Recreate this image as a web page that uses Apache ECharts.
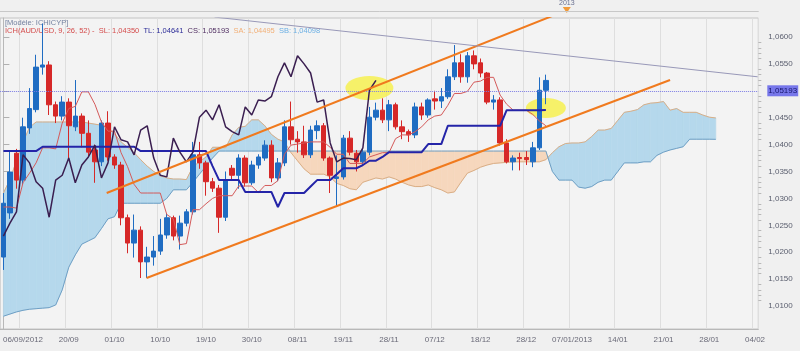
<!DOCTYPE html>
<html>
<head>
<meta charset="utf-8">
<script src="https://cdn.jsdelivr.net/npm/echarts@6/dist/echarts.min.js"></script>
<style>
html, body { margin: 0; padding: 0; background: #f0f0f0; }
#chart { width: 800px; height: 351px; }
</style>
</head>
<body>
<div id="chart"></div>
<script>
// bougies : [ouverture, clôture, bas, haut]
const candles = [
  [1.0191, 1.0291, 1.0167, 1.0310], [1.0273, 1.0349, 1.0262, 1.0387], [1.0384, 1.0334, 1.0318, 1.0392],
  [1.0334, 1.0433, 1.0325, 1.0450], [1.0431, 1.0467, 1.0420, 1.0505], [1.0465, 1.0544, 1.0460, 1.0567],
  [1.0544, 1.0548, 1.0530, 1.0625], [1.0548, 1.0474, 1.0455, 1.0555], [1.0474, 1.0453, 1.0440, 1.0480],
  [1.0453, 1.0479, 1.0445, 1.0490], [1.0479, 1.0435, 1.0375, 1.0486], [1.0433, 1.0453, 1.0425, 1.0520],
  [1.0453, 1.0421, 1.0395, 1.0458], [1.0421, 1.0386, 1.0378, 1.0445], [1.0390, 1.0368, 1.0329, 1.0400],
  [1.0368, 1.0440, 1.0360, 1.0445], [1.0440, 1.0377, 1.0370, 1.0462], [1.0377, 1.0362, 1.0355, 1.0382],
  [1.0362, 1.0264, 1.0250, 1.0368], [1.0264, 1.0217, 1.0198, 1.0270], [1.0217, 1.0241, 1.0190, 1.0270],
  [1.0241, 1.0182, 1.0152, 1.0248], [1.0182, 1.0191, 1.0152, 1.0210], [1.0191, 1.0202, 1.0175, 1.0230],
  [1.0202, 1.0232, 1.0195, 1.0262], [1.0232, 1.0264, 1.0225, 1.0272], [1.0264, 1.0230, 1.0222, 1.0268],
  [1.0230, 1.0254, 1.0205, 1.0268], [1.0254, 1.0275, 1.0248, 1.0280], [1.0275, 1.0381, 1.0270, 1.0405],
  [1.0381, 1.0366, 1.0355, 1.0405], [1.0366, 1.0331, 1.0305, 1.0370], [1.0331, 1.0319, 1.0312, 1.0338],
  [1.0319, 1.0265, 1.0236, 1.0325], [1.0265, 1.0334, 1.0258, 1.0350], [1.0356, 1.0343, 1.0335, 1.0362],
  [1.0343, 1.0375, 1.0318, 1.0382], [1.0375, 1.0329, 1.0322, 1.0380], [1.0329, 1.0362, 1.0325, 1.0370],
  [1.0362, 1.0377, 1.0355, 1.0382], [1.0375, 1.0399, 1.0370, 1.0408], [1.0399, 1.0338, 1.0330, 1.0408],
  [1.0338, 1.0366, 1.0332, 1.0375], [1.0366, 1.0433, 1.0360, 1.0445], [1.0433, 1.0409, 1.0400, 1.0480],
  [1.0410, 1.0405, 1.0385, 1.0425], [1.0405, 1.0381, 1.0375, 1.0435], [1.0381, 1.0427, 1.0375, 1.0435],
  [1.0426, 1.0435, 1.0410, 1.0445], [1.0435, 1.0375, 1.0370, 1.0440], [1.0375, 1.0343, 1.0310, 1.0378],
  [1.0337, 1.0340, 1.0284, 1.0380], [1.0340, 1.0412, 1.0335, 1.0418], [1.0412, 1.0386, 1.0380, 1.0425],
  [1.0384, 1.0368, 1.0350, 1.0390], [1.0368, 1.0386, 1.0362, 1.0392], [1.0386, 1.0451, 1.0380, 1.0470],
  [1.0451, 1.0464, 1.0445, 1.0478], [1.0464, 1.0446, 1.0440, 1.0486], [1.0446, 1.0474, 1.0425, 1.0483],
  [1.0474, 1.0433, 1.0428, 1.0478], [1.0433, 1.0424, 1.0410, 1.0445], [1.0424, 1.0418, 1.0405, 1.0428],
  [1.0418, 1.0470, 1.0412, 1.0478], [1.0470, 1.0455, 1.0446, 1.0478], [1.0455, 1.0483, 1.0450, 1.0486],
  [1.0485, 1.0481, 1.0465, 1.0500], [1.0481, 1.0489, 1.0468, 1.0505], [1.0489, 1.0526, 1.0485, 1.0540],
  [1.0526, 1.0552, 1.0520, 1.0585], [1.0552, 1.0526, 1.0515, 1.0568], [1.0526, 1.0565, 1.0515, 1.0572],
  [1.0565, 1.0550, 1.0540, 1.0575], [1.0552, 1.0533, 1.0525, 1.0560], [1.0533, 1.0479, 1.0475, 1.0535],
  [1.0479, 1.0483, 1.0465, 1.0492], [1.0483, 1.0403, 1.0398, 1.0488], [1.0403, 1.0368, 1.0365, 1.0410],
  [1.0368, 1.0375, 1.0352, 1.0380], [1.0376, 1.0374, 1.0352, 1.0385], [1.0376, 1.0372, 1.0362, 1.0388],
  [1.0368, 1.0394, 1.0358, 1.0405], [1.0394, 1.0501, 1.0390, 1.0525], [1.0501, 1.05193, 1.0475, 1.0530]
];

// SL (rouge) et TL (bleu foncé)
const tenkan = [
  1.0284, 1.0284, 1.0282, 1.0329, 1.0347, 1.0366, 1.0394, 1.0394, 1.0392, 1.0440,
  1.0467, 1.0471, 1.0498, 1.0498, 1.0475, 1.0442, 1.0425, 1.0425, 1.0385, 1.0359,
  1.0326, 1.0310, 1.0310, 1.0310, 1.0310, 1.0270, 1.0262, 1.0214, 1.0216, 1.0279,
  1.0279, 1.0290, 1.0300, 1.0305, 1.0305, 1.0305, 1.0323, 1.0323, 1.0323, 1.0311,
  1.0324, 1.0324, 1.0333, 1.0382, 1.0399, 1.0401, 1.0403, 1.0405, 1.0405, 1.0405,
  1.0395, 1.0382, 1.0382, 1.0365, 1.0365, 1.0365, 1.0377, 1.0381, 1.0385, 1.0385,
  1.0411, 1.0418, 1.0418, 1.0424, 1.0433, 1.0446, 1.0453, 1.0455, 1.0473, 1.0495,
  1.0495, 1.0499, 1.0516, 1.0518, 1.0525, 1.0525, 1.0492, 1.0475, 1.0464, 1.0464,
  1.0464, 1.0456, 1.0444, 1.0435
];
const kijun = [
  1.0388, 1.0388, 1.0388, 1.0388, 1.0388, 1.0388, 1.0396, 1.0396, 1.0396, 1.0396,
  1.0396, 1.0396, 1.0396, 1.0396, 1.0396, 1.0396, 1.0396, 1.0396, 1.0396, 1.0396,
  1.0396, 1.0388, 1.0388, 1.0388, 1.0388, 1.0388, 1.0388, 1.0388, 1.0388, 1.0388,
  1.0388, 1.0388, 1.0360, 1.0334, 1.0334, 1.0334, 1.0334, 1.0312, 1.0312, 1.0312,
  1.0312, 1.0312, 1.0284, 1.0310, 1.0310, 1.0310, 1.0310, 1.0322, 1.0334, 1.0334,
  1.0334, 1.0345, 1.0356, 1.0356, 1.0356, 1.0362, 1.0370, 1.0370, 1.0377, 1.0386,
  1.0386, 1.0386, 1.0386, 1.0386, 1.0386, 1.0401, 1.0401, 1.0401, 1.0435, 1.0435,
  1.0435, 1.0435, 1.0435, 1.0435, 1.0435, 1.0435, 1.0435, 1.0464, 1.0464, 1.0464,
  1.0464, 1.0464, 1.0464, 1.04641
];

// nuage : SA et SB, décalés de 26 séances
const spanA = [
  1.0310, 1.0335, 1.0370, 1.0405, 1.0432, 1.0442, 1.0442, 1.0442, 1.0442, 1.0442,
  1.0442, 1.0442, 1.0442, 1.0440, 1.0438, 1.0436, 1.0430, 1.0420, 1.0405, 1.0395,
  1.0385, 1.0372, 1.0360, 1.0350, 1.0342, 1.0338, 1.0336, 1.0336, 1.0335, 1.0359,
  1.0368, 1.0377, 1.0395, 1.0395, 1.0394, 1.0418, 1.0432, 1.0434, 1.0446, 1.0446,
  1.0435, 1.0419, 1.0410, 1.0405, 1.0385, 1.0370, 1.0355, 1.0345, 1.0345, 1.0345,
  1.0340, 1.0328, 1.0324, 1.0318, 1.0316, 1.0330, 1.0334, 1.0338, 1.0336, 1.0340,
  1.0336, 1.0330, 1.0325, 1.0322, 1.0322, 1.0325, 1.0320, 1.0316, 1.0310, 1.0312,
  1.0330, 1.0347, 1.0352, 1.0358, 1.0362, 1.0365, 1.0366, 1.0367, 1.0368, 1.0368,
  1.0368, 1.0368, 1.0368, 1.0372, 1.0385, 1.0396, 1.0402, 1.0403, 1.0403, 1.0405,
  1.0415, 1.0427, 1.0427, 1.0430, 1.0445, 1.0460, 1.0462, 1.0465, 1.0474, 1.0477,
  1.0478, 1.0480, 1.0464, 1.0467, 1.0460, 1.0460, 1.0460, 1.0455, 1.0451, 1.04495
];
const spanB = [
  1.0081, 1.0085, 1.0089, 1.0092, 1.0094, 1.0095, 1.0096, 1.0097, 1.0102, 1.0130,
  1.0172, 1.0195, 1.0215, 1.0221, 1.0227, 1.0244, 1.0262, 1.0266, 1.0291, 1.0291,
  1.0291, 1.0291, 1.0291, 1.0291, 1.0291, 1.0300, 1.0316, 1.0316, 1.0316, 1.0330,
  1.0345, 1.0360, 1.0375, 1.0388, 1.0388, 1.0388, 1.0388, 1.0388, 1.0388, 1.0388,
  1.0388, 1.0388, 1.0388, 1.0388, 1.0388, 1.0388, 1.0388, 1.0388, 1.0388, 1.0388,
  1.0388, 1.0388, 1.0388, 1.0388, 1.0388, 1.0388, 1.0388, 1.0388, 1.0388, 1.0388,
  1.0388, 1.0388, 1.0388, 1.0388, 1.0388, 1.0388, 1.0388, 1.0388, 1.0388, 1.0388,
  1.0388, 1.0388, 1.0388, 1.0388, 1.0388, 1.0388, 1.0388, 1.0388, 1.0388, 1.0388,
  1.0388, 1.0388, 1.0388, 1.0388, 1.0350, 1.0334, 1.0334, 1.0334, 1.0321, 1.0319,
  1.0322, 1.0330, 1.0334, 1.0334, 1.0350, 1.0366, 1.0366, 1.0366, 1.0368, 1.0368,
  1.0380, 1.0386, 1.0390, 1.0393, 1.0396, 1.0410, 1.0410, 1.0410, 1.0410, 1.04098
];

const dateLabels = ['06/09/2012', '20/09', '01/10', '10/10', '19/10', '30/10', '08/11', '19/11', '28/11',
  '07/12', '18/12', '28/12', '07/01/2013', '14/01', '21/01', '28/01', '04/02'];
const priceTicks = [1.01, 1.015, 1.02, 1.025, 1.03, 1.035, 1.04, 1.045, 1.05, 1.055, 1.06];

// tracés manuels : [séance, prix]
const upperChannel = [[15.8, 1.0310], [85.2, 1.0645]];
const lowerChannel = [[21.9, 1.0152], [102.0, 1.0520]];
const resistance = [[32.3, 1.0637], [115.4, 1.0526]];
const highlights = [[55.5, 1.0505, 24, 12], [83.0, 1.0468, 20, 10]];
const yearMark = 86.2;

const SLOTS = 116;
const FIRST_LABEL = 3;
const LABEL_STEP = 7;
const categories = Array.from({ length: SLOTS }, (_, i) => String(i));
const isLabel = i => i >= FIRST_LABEL && (i - FIRST_LABEL) % LABEL_STEP === 0;
const closes = candles.map(c => c[1]);
const chikou = closes.slice(26);
const lastPrice = closes[closes.length - 1];
const fmt4 = v => v.toFixed(4).replace('.', ',');
const fmt5 = v => v.toFixed(5).replace('.', ',');

const minorTicks = [];
for (let k = 0; k < priceTicks.length - 1; k++) {
  for (let j = 1; j < 5; j++) minorTicks.push(priceTicks[k] + (priceTicks[k + 1] - priceTicks[k]) * j / 5);
}

const BLUE = '#1f6cc2', RED = '#d62828';
const CLOUD_UP = '#b5d8ec', CLOUD_DOWN = '#f6d7bd';
const FONT = 'Liberation Sans';

const cloudData = spanA.slice(0, -1).map((a, i) => [i, a, spanB[i], spanA[i + 1], spanB[i + 1]]);

function renderCloud(params, api) {
  const i = api.value(0);
  const a0 = api.value(1), b0 = api.value(2), a1 = api.value(3), b1 = api.value(4);
  const pA0 = api.coord([i, a0]), pB0 = api.coord([i, b0]);
  const pA1 = api.coord([i + 1, a1]), pB1 = api.coord([i + 1, b1]);
  const d0 = a0 - b0, d1 = a1 - b1;
  const col = d => (d >= 0 ? CLOUD_UP : CLOUD_DOWN);
  const poly = (pts, c) => ({ type: 'polygon', shape: { points: pts }, style: { fill: c, stroke: c, lineWidth: 0.6 } });
  if (d0 * d1 >= 0) return poly([pA0, pA1, pB1, pB0], col(d0 + d1));
  const t = d0 / (d0 - d1);
  const px = [pA0[0] + t * (pA1[0] - pA0[0]), pA0[1] + t * (pA1[1] - pA0[1])];
  return { type: 'group', children: [poly([pA0, px, pB0], col(d0)), poly([px, pA1, pB1], col(d1))] };
}

function renderHighlight(params, api) {
  const p = api.coord([api.value(0), api.value(1)]);
  const rx = api.value(2), ry = api.value(3);
  return {
    type: 'circle', x: p[0], y: p[1], scaleY: ry / rx,
    shape: { cx: 0, cy: 0, r: rx },
    style: { fill: 'rgba(246, 240, 70, 0.8)' }
  };
}

const line = (name, data, color, width, z, xAxisIndex) => ({
  name, type: 'line', data, xAxisIndex: xAxisIndex || 0, showSymbol: false, silent: true, z,
  lineStyle: { color, width }, animation: false
});

const chart = echarts.init(document.getElementById('chart'));
chart.setOption({
  backgroundColor: '#f0f0f0',
  animation: false,
  grid: { left: -1.94, right: 41.7, top: 18, bottom: 22, show: true, borderColor: '#c4c4c4', borderWidth: 1, backgroundColor: '#f3f3f3' },
  xAxis: [
    {
      type: 'category', data: categories, boundaryGap: true,
      axisLine: { lineStyle: { color: '#b8b8b8' } },
      axisTick: { alignWithLabel: true, interval: i => isLabel(i), length: 5, lineStyle: { color: '#b0b0b0' } },
      axisLabel: { interval: i => isLabel(i), formatter: (v, i) => dateLabels[(i - FIRST_LABEL) / LABEL_STEP], color: '#6a6a78', fontSize: 8, fontFamily: FONT, margin: 7 },
      splitLine: { show: true, interval: i => isLabel(i), lineStyle: { color: '#dedede', width: 1 } }
    },
    { type: 'value', min: -0.5, max: SLOTS - 0.5, show: false },
    {
      type: 'category', data: categories, boundaryGap: true, position: 'top', offset: 7,
      axisLine: { lineStyle: { color: '#c8c8c8' } },
      axisTick: { interval: 3, length: 3, inside: true, lineStyle: { color: '#c8c8c8' } },
      axisLabel: { show: false }, splitLine: { show: false }
    },
    {
      type: 'category', data: categories, boundaryGap: true, position: 'bottom',
      axisLine: { show: false },
      axisTick: { alignWithLabel: true, interval: 0, length: 2.5, lineStyle: { color: '#b8b8b8' } },
      axisLabel: { show: false }, splitLine: { show: false }
    }
  ],
  yAxis: [
    {
      type: 'value', position: 'right', min: 1.005725, max: 1.06353, scale: true,
      axisLine: { show: true, lineStyle: { color: '#b8b8b8' } },
      axisTick: { show: true, customValues: priceTicks, length: 6, lineStyle: { color: '#b0b0b0' } },
      axisLabel: { customValues: priceTicks, formatter: v => fmt4(v), color: '#5c6070', fontSize: 8, fontFamily: FONT, margin: 10 },
      splitLine: { show: false }
    },
    {
      type: 'value', position: 'right', min: 1.005725, max: 1.06353, scale: true,
      axisLine: { show: false },
      axisTick: { show: true, customValues: minorTicks, length: 3, lineStyle: { color: '#b8b8b8' } },
      axisLabel: { show: false }, splitLine: { show: false }
    }
  ],
  series: [
    { name: 'nuage', type: 'custom', data: cloudData, renderItem: renderCloud, clip: true, silent: true, z: 1 },
    line('SA', spanA, '#d9ae86', 1, 2),
    line('SB', spanB, '#6f9fc4', 1, 2),
    { name: 'zones', type: 'custom', data: highlights, renderItem: renderHighlight, clip: true, silent: true, z: 2 },
    {
      name: 'AUD/USD', type: 'candlestick', data: candles, barWidth: 5, z: 3,
      itemStyle: { color: BLUE, color0: RED, borderColor: BLUE, borderColor0: RED, borderWidth: 1 },
      markLine: {
        silent: true, symbol: 'none', animation: false,
        lineStyle: { type: 'dotted', color: '#7c7ce4', width: 1 },
        label: {
          position: 'end', formatter: fmt5(lastPrice), distance: 9,
          backgroundColor: '#7777ea', color: '#15156a', fontSize: 8, fontFamily: FONT, padding: [2, 1, 1, 1]
        },
        data: [{ yAxis: lastPrice }]
      }
    },
    line('SL', tenkan, '#d45a5a', 1, 4),
    line('TL', kijun, '#2424a8', 2, 4),
    line('CS', chikou, '#3a1e50', 1.5, 4),
    line('canal haut', upperChannel, '#f07a1e', 2, 5, 1),
    line('canal bas', lowerChannel, '#f07a1e', 2, 5, 1),
    line('résistance', resistance, '#9898b8', 1, 5, 1)
  ]
});

// légende et repère de l'année 2013 sur le bord supérieur
const yearX = chart.convertToPixel({ xAxisIndex: 1 }, yearMark);
chart.setOption({
  graphic: [
    { id: 'modele', type: 'text', left: 5, top: 19, style: { text: '[Modèle: ICHICYP]', fill: '#7482a0', fontSize: 7.5, fontFamily: FONT } },
    {
      id: 'legende', type: 'text', left: 5, top: 27,
      style: {
        text: '{a|ICH(AUD/USD, 9, 26, 52) -  SL: ' + fmt5(tenkan[tenkan.length - 1]) + '}  {b|TL: ' + fmt5(kijun[kijun.length - 1]) +
          '}  {c|CS: ' + fmt5(lastPrice) + '}  {d|SA: ' + fmt5(spanA[spanA.length - 1]) + '}  {e|SB: ' + fmt5(spanB[spanB.length - 1]) + '}',
        fontSize: 7.5, fontFamily: FONT,
        rich: {
          a: { fill: '#d44c4c', fontSize: 7.5, fontFamily: FONT },
          b: { fill: '#2c2c98', fontSize: 7.5, fontFamily: FONT },
          c: { fill: '#4e2c60', fontSize: 7.5, fontFamily: FONT },
          d: { fill: '#f2b078', fontSize: 7.5, fontFamily: FONT },
          e: { fill: '#6cb0e4', fontSize: 7.5, fontFamily: FONT }
        }
      }
    },
    { id: 'annee', type: 'text', x: yearX, y: 0, style: { text: '2013', fill: '#6a7090', fontSize: 7, fontFamily: FONT, align: 'center' } },
    { id: 'triangle', type: 'polygon', shape: { points: [[yearX - 4, 7], [yearX + 4, 7], [yearX, 13]] }, style: { fill: '#f29a3a' } }
  ]
});
</script>
</body>
</html>
